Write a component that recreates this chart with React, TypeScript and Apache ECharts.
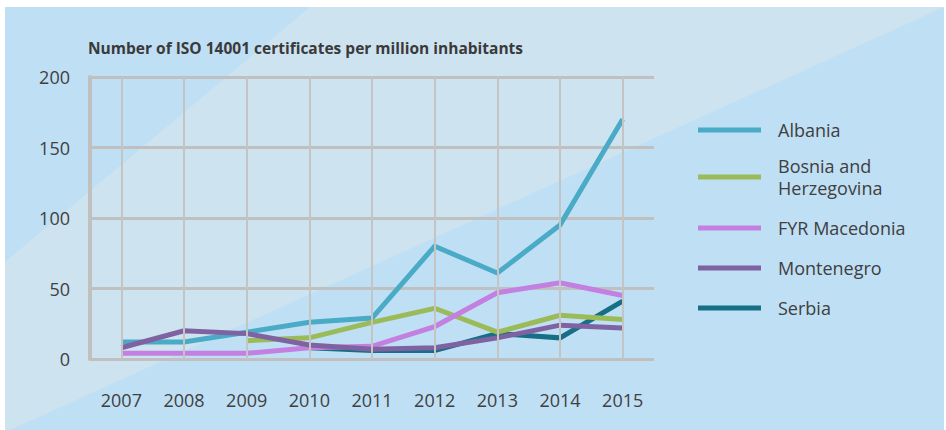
import React, { useEffect, useRef } from "react";
import * as echarts from "echarts";

const years = ["2007", "2008", "2009", "2010", "2011", "2012", "2013", "2014", "2015"];
const albania = [12, 12, 19, 26, 29, 80, 61, 95, 170];
const bosnia = [null, null, 13, 15, 26, 36, 19, 31, 28];
const macedonia = [4, 4, 4, 8, 9, 23, 47, 54, 45];
const montenegro = [8, 20, 18, 10, 7, 8, 15, 24, 22];
const serbia = [null, null, null, 8, 6, 6, 18, 15, 41];
const yTicks = { min: 0, max: 200, interval: 50 };
const titleText = "Number of ISO 14001 certificates per million inhabitants";

const names = ["Albania", "Bosnia and Herzegovina", "FYR Macedonia", "Montenegro", "Serbia"];
const colors = ["#4aabc6", "#9bbb59", "#c380e0", "#7f62a1", "#166f84"];

export default function App() {
  const ref = useRef<HTMLDivElement>(null);
  useEffect(() => {
    if (!ref.current) return;
    const chart = echarts.init(ref.current, undefined, { renderer: "svg" });
    const font = "'Open Sans', sans-serif";
    const mk = (i: number, data: (number | null)[], z: number) => ({
      name: names[i],
      type: "line",
      data,
      z,
      symbol: "none",
      connectNulls: false,
      color: colors[i],
      lineStyle: { width: 5, color: colors[i], join: "miter" },
      itemStyle: { color: colors[i] },
    });
    const legendCommon = {
      orient: "vertical",
      left: 693,
      icon: "rect",
      itemWidth: 63,
      itemHeight: 5,
      textStyle: {
        fontFamily: font,
        fontSize: 18,
        lineHeight: 22,
        color: "#404040",
        padding: [0, 0, 0, 12],
      },
      formatter: (n: string) => (n === "Bosnia and Herzegovina" ? "Bosnia and\nHerzegovina" : n),
    };
    chart.setOption({
      animation: false,
      backgroundColor: "#ffffff",
      graphic: [
        {
          type: "rect",
          z: -100,
          silent: true,
          shape: { x: 5, y: 7, width: 939, height: 423 },
          style: { fill: "#bfdff4" },
        },
        {
          type: "polygon",
          z: -99,
          silent: true,
          shape: {
            points: [
              [310, 7],
              [944, 7],
              [10, 430],
              [5, 430],
              [5, 262],
            ],
          },
          style: { fill: "#cde3f0" },
        },
        {
          type: "text",
          left: 88,
          top: 40,
          style: {
            text: titleText,
            font: "bold 15.5px 'Open Sans', sans-serif",
            fill: "#3a3a3a",
          },
        },
      ],
      legend: [
        { ...legendCommon, top: 114, itemGap: 14, data: names.slice(0, 2) },
        { ...legendCommon, top: 212, itemGap: 18, data: names.slice(2) },
      ],
      grid: { left: 90, right: 292, top: 77, bottom: 71, containLabel: false },
      xAxis: {
        type: "category",
        data: years,
        boundaryGap: true,
        axisLine: { show: false },
        axisTick: { show: false },
        splitLine: { show: false },
        axisLabel: { fontFamily: font, fontSize: 18, color: "#404040", margin: 32 },
      },
      yAxis: {
        type: "value",
        ...yTicks,
        axisLine: { show: true, lineStyle: { color: "#c0c0c0", width: 4 } },
        axisTick: { show: false },
        splitLine: { show: true, lineStyle: { color: "#c0c0c0", width: 3 } },
        axisLabel: { fontFamily: font, fontSize: 18, color: "#404040", margin: 20 },
      },
      series: [
        {
          name: "grid-verticals",
          type: "line",
          data: [],
          z: 1,
          silent: true,
          markLine: {
            silent: true,
            symbol: "none",
            label: { show: false },
            lineStyle: { color: "#c4c4c4", width: 2, type: "solid" },
            emphasis: { disabled: true },
            data: years.map((y) => ({ xAxis: y })),
          },
        },
        mk(4, serbia, 2),
        mk(0, albania, 3),
        mk(1, bosnia, 3),
        mk(2, macedonia, 3),
        mk(3, montenegro, 3),
      ],
    });
    return () => chart.dispose();
  }, []);
  return (
    <div
      ref={ref}
      style={{ position: "fixed", left: 0, top: 0, width: 946, height: 430 }}
    />
  );
}
